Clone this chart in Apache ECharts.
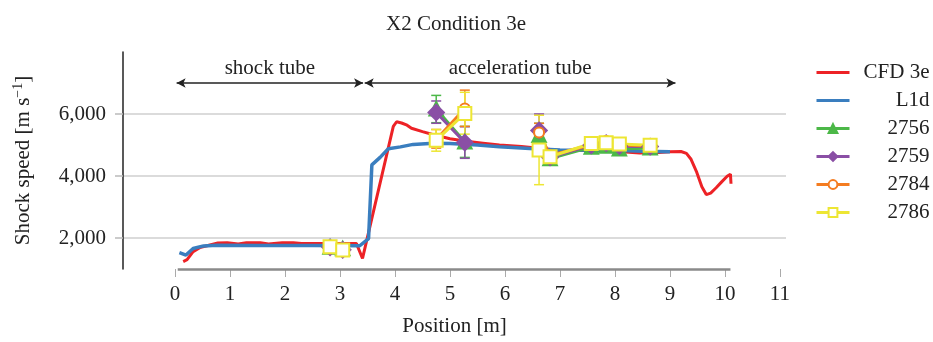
<!DOCTYPE html>
<html>
<head>
<meta charset="utf-8">
<script src="https://cdn.jsdelivr.net/npm/echarts@6/dist/echarts.min.js"></script>
<style>
  html, body { margin: 0; padding: 0; background: #fff; }
  #chart { width: 933px; height: 342px; }
</style>
</head>
<body>
<div id="chart"></div>
<script>
// 数据
const cfd3e = [
  [0.15, 1240], [0.22, 1300], [0.33, 1560], [0.45, 1690], [0.6, 1760], [0.78, 1840],
  [0.95, 1850], [1.15, 1810], [1.3, 1850], [1.55, 1850], [1.7, 1810], [1.95, 1850],
  [2.15, 1850], [2.3, 1820], [2.8, 1820], [3.3, 1820], [3.41, 1340], [3.97, 5600],
  [4.03, 5750], [4.12, 5710], [4.22, 5640], [4.3, 5540], [4.5, 5430], [4.7, 5330],
  [5.0, 5200], [5.3, 5120], [5.6, 5060], [5.9, 5000], [6.3, 4950], [6.7, 4880],
  [7.0, 4820], [7.5, 4820], [8.0, 4800], [8.45, 4740], [8.8, 4760], [9.0, 4780],
  [9.2, 4790], [9.3, 4730], [9.38, 4550], [9.48, 4150], [9.58, 3650], [9.66, 3400],
  [9.74, 3450], [9.84, 3620], [9.94, 3810], [10.04, 3990], [10.1, 4060], [10.11, 3750]
];
const l1d = [
  [0.08, 1530], [0.2, 1450], [0.33, 1660], [0.52, 1745], [0.76, 1765], [1.5, 1760],
  [2.5, 1755], [3.36, 1750], [3.52, 1980], [3.58, 4360], [3.73, 4600], [3.88, 4880],
  [4.1, 4940], [4.33, 5020], [4.7, 5060], [5.0, 5050], [5.5, 5000], [5.9, 4945],
  [6.45, 4890], [7.0, 4840], [8.0, 4830], [8.5, 4800], [9.0, 4780]
];
// null = 断开
const s2756 = [[2.82, 1700], [3.05, 1650], null, [4.75, 6160], [5.27, 5100], null,
  [6.62, 5310], [6.82, 4560], [7.57, 4930], [7.84, 4960], [8.08, 4870], [8.64, 4900]];
const s2759 = [[2.82, 1700], [3.05, 1620], null, [4.75, 6050], [5.27, 5080], null,
  [6.62, 5470], [6.82, 4600], [7.57, 4990], [7.84, 5060], [8.08, 4960], [8.64, 4950]];
const s2784 = [[2.82, 1670], [3.05, 1610], null, [4.75, 5180], [5.27, 6180], null,
  [6.62, 5400], [6.82, 4660], [7.57, 5010], [7.84, 5130], [8.08, 5000], [8.64, 4970]];
const s2786 = [[2.82, 1714], [3.05, 1610], null, [4.75, 5150], [5.27, 6020], null,
  [6.62, 4840], [6.82, 4620], [7.57, 5050], [7.84, 5070], [8.08, 5030], [8.64, 4995]];

// 误差棒 [x, low, high]
const err2756 = [[4.75, 5720, 6600], [5.27, 4600, 5600], [6.62, 4900, 5700], [6.82, 4450, 4680]];
const err2759 = [[4.75, 5700, 6420], [5.27, 4570, 5590], [6.62, 5000, 6000], [6.82, 4480, 4720]];
const err2784 = [[4.75, 4900, 5500], [5.27, 5600, 6770], [6.62, 5100, 5700]];
const err2786 = [[4.75, 4800, 5500], [5.27, 5350, 6700], [6.62, 3720, 5960], [6.82, 4500, 4740]];

const xTicks = [0, 1, 2, 3, 4, 5, 6, 7, 8, 9, 10, 11];
const yTicks = [2000, 4000, 6000];
const spans = [
  { name: 'shock tube', from: 0.03, to: 3.42, y: 7000 },
  { name: 'acceleration tube', from: 3.45, to: 9.1, y: 7000 }
];

const FONT = '"Liberation Serif", "Times New Roman", serif';
const toPair = p => (p ? p : ['-', '-']);

const errorSeries = (name, color, data) => ({
  name: name + ' err',
  type: 'custom',
  data: data,
  encode: { x: 0, y: [1, 2] },
  silent: true,
  z: 3,
  renderItem: (params, api) => {
    const x = api.value(0);
    const lo = api.coord([x, api.value(1)]);
    const hi = api.coord([x, api.value(2)]);
    const w = 5;
    const style = { stroke: color, lineWidth: 1.5 };
    return {
      type: 'group',
      children: [
        { type: 'line', shape: { x1: lo[0], y1: lo[1], x2: hi[0], y2: hi[1] }, style },
        { type: 'line', shape: { x1: lo[0] - w, y1: lo[1], x2: lo[0] + w, y2: lo[1] }, style },
        { type: 'line', shape: { x1: hi[0] - w, y1: hi[1], x2: hi[0] + w, y2: hi[1] }, style }
      ]
    };
  }
});

const expSeries = (name, color, symbol, size, data) => ({
  name: name,
  type: 'line',
  data: data.map(toPair),
  symbol: symbol,
  symbolSize: size,
  showAllSymbol: true,
  connectNulls: false,
  z: 4,
  lineStyle: { color: color, width: 3 },
  itemStyle: { color: color, borderColor: color, borderWidth: 3 }
});

const chart = echarts.init(document.getElementById('chart'));

const option = {
  animation: false,
  backgroundColor: '#fff',
  title: {
    text: 'X2 Condition 3e',
    left: 451,
    top: 9,
    textAlign: 'center',
    textStyle: { fontFamily: FONT, fontSize: 21, fontWeight: 'normal', color: '#222' }
  },
  legend: {
    orient: 'vertical',
    left: 810,
    top: 57,
    itemWidth: 33,
    itemHeight: 11,
    itemGap: 7,
    lineStyle: { width: 3 },
    data: [
      { name: 'CFD 3e', itemStyle: { opacity: 0 } },
      { name: 'L1d', itemStyle: { opacity: 0 } },
      '2756', '2759', '2784', '2786'
    ],
    formatter: name => '{t|' + name + '}',
    textStyle: {
      fontFamily: FONT,
      fontSize: 21,
      color: '#222',
      rich: { t: { width: 75, align: 'right', fontFamily: FONT, fontSize: 21, lineHeight: 22, color: '#222' } }
    }
  },
  grid: { left: 123, right: 147, top: 52, bottom: 69 },
  xAxis: {
    type: 'value',
    min: -0.945,
    max: 11.11,
    name: 'Position [m]',
    nameLocation: 'middle',
    nameGap: 47,
    nameTextStyle: { fontFamily: FONT, fontSize: 21, color: '#222' },
    axisLine: { show: false, onZero: false },
    axisTick: { show: true, customValues: xTicks, length: 8, lineStyle: { color: '#aaa', width: 1 } },
    axisLabel: { customValues: xTicks, margin: 15, fontFamily: FONT, fontSize: 21, color: '#222' },
    splitLine: { show: false }
  },
  yAxis: {
    type: 'value',
    min: 1000,
    max: 8000,
    name: 'Shock speed [m s{sup|−1}]',
    nameLocation: 'middle',
    nameGap: 88,
    nameTextStyle: {
      fontFamily: FONT, fontSize: 21, color: '#222',
      rich: { sup: { fontFamily: FONT, fontSize: 14, verticalAlign: 'top', padding: [0, 0, 10, 0], color: '#222' } }
    },
    axisLine: { show: true, onZero: false, lineStyle: { color: '#222', width: 1.5 } },
    axisTick: { show: true, customValues: yTicks, length: 8, lineStyle: { color: '#bbb', width: 1.5 } },
    axisLabel: {
      customValues: yTicks,
      margin: 17,
      fontFamily: FONT,
      fontSize: 21,
      color: '#222',
      formatter: v => v.toLocaleString('en-US')
    },
    splitLine: { show: true, lineStyle: { color: '#cfcfcf', width: 1.5 } }
  },
  series: [
    {
      name: 'CFD 3e',
      type: 'line',
      data: cfd3e,
      symbol: 'none',
      z: 2,
      lineStyle: { color: '#ed2226', width: 3 },
      itemStyle: { color: '#ed2226' },
      markLine: {
        silent: true,
        animation: false,
        data: [
          [
            { coord: [0.05, 1000], symbol: 'none' },
            { coord: [10.1, 1000], symbol: 'none' }
          ]
        ],
        lineStyle: { color: '#8a8a8a', width: 2.5, type: 'solid' },
        label: { show: false }
      }
    },
    {
      name: 'L1d',
      type: 'line',
      data: l1d,
      symbol: 'none',
      z: 2,
      lineStyle: { color: '#3a7ebf', width: 3.5 },
      itemStyle: { color: '#3a7ebf' },
      markLine: {
        silent: true,
        animation: false,
        symbol: ['arrow', 'arrow'],
        symbolSize: [7, 9],
        lineStyle: { color: '#222', width: 1.5, type: 'solid' },
        label: {
          show: true,
          position: 'insideMiddleTop',
          distance: 4,
          fontFamily: FONT,
          fontSize: 21,
          color: '#222',
          formatter: p => p.name
        },
        data: spans.map(s => [
          { name: s.name, coord: [s.from, s.y] },
          { coord: [s.to, s.y] }
        ])
      }
    },
    errorSeries('2756', '#4cb848', err2756),
    errorSeries('2759', '#8a4fa5', err2759),
    errorSeries('2784', '#f47c20', err2784),
    errorSeries('2786', '#ede633', err2786),
    expSeries('2756', '#4cb848', 'triangle', 12, s2756),
    expSeries('2759', '#8a4fa5', 'diamond', 14, s2759),
    expSeries('2784', '#f47c20', 'emptyCircle', 10, s2784),
    expSeries('2786', '#ede633', 'emptyRect', 13, s2786)
  ]
};

chart.setOption(option);
window.addEventListener('resize', () => chart.resize());
</script>
</body>
</html>
